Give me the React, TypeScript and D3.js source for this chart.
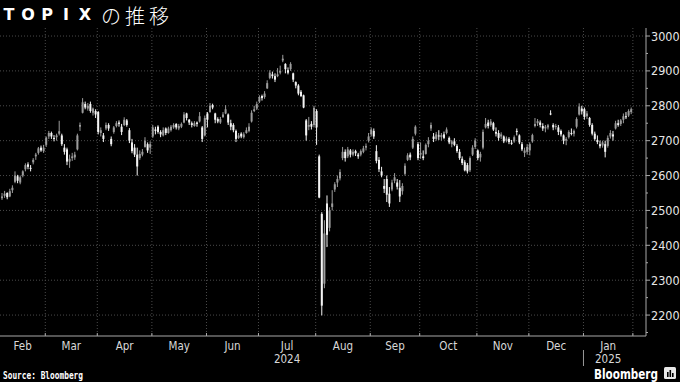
import React from "react";
import * as d3 from "d3";

// OHLC per trading day, [open, high, low, close], one array per month
const ohlcFeb = [
  [2535,2550,2530,2540],[2542,2556,2536,2548],[2550,2552,2532,2538],[2540,2562,2538,2555],[2558,2572,2550,2565],
  [2582,2612,2578,2600],[2598,2602,2578,2585],[2580,2600,2575,2595],[2600,2615,2595,2612],[2618,2635,2612,2630],
  [2632,2638,2618,2625],[2622,2630,2612,2620],[2638,2650,2632,2645],[2655,2665,2645,2660],[2665,2682,2660,2678],
  [2680,2686,2668,2672],[2670,2688,2665,2680],
];
const ohlcMar = [
  [2688,2712,2682,2709],[2712,2728,2705,2722],[2722,2726,2705,2712],[2708,2716,2698,2705],[2710,2720,2700,2715],
  [2720,2757,2715,2727],[2715,2720,2685,2690],[2680,2690,2660,2668],[2675,2680,2630,2640],[2640,2660,2622,2648],
  [2650,2665,2642,2655],[2652,2668,2645,2660],[2675,2720,2672,2715],[2740,2752,2728,2745],[2780,2822,2778,2810],
  [2805,2812,2790,2795],[2792,2808,2786,2800],[2805,2812,2780,2785],[2780,2795,2772,2792],[2785,2790,2765,2775],
];
const ohlcApr = [
  [2782,2785,2718,2725],[2722,2738,2712,2730],[2715,2722,2696,2705],[2735,2752,2730,2745],[2745,2750,2728,2735],
  [2705,2712,2684,2690],[2725,2742,2720,2738],[2742,2756,2738,2750],[2752,2758,2740,2748],[2740,2748,2716,2725],
  [2745,2767,2742,2760],[2758,2762,2740,2745],[2730,2736,2693,2700],[2695,2705,2664,2670],[2680,2690,2653,2660],
  [2660,2680,2600,2626],[2650,2672,2645,2662],[2660,2676,2655,2668],[2682,2710,2680,2700],[2690,2695,2665,2672],
  [2680,2698,2662,2690],
];
const ohlcMay = [
  [2712,2745,2708,2738],[2732,2740,2718,2728],[2740,2744,2720,2725],[2725,2730,2710,2718],[2715,2738,2712,2730],
  [2735,2738,2716,2722],[2722,2740,2720,2735],[2730,2745,2726,2740],[2738,2750,2734,2745],[2748,2750,2732,2738],
  [2735,2748,2730,2742],[2740,2752,2736,2748],[2752,2782,2750,2775],[2778,2780,2758,2765],[2760,2762,2745,2752],
  [2750,2755,2738,2745],[2742,2756,2740,2750],[2752,2755,2740,2748],[2755,2782,2752,2770],[2738,2742,2696,2705],
  [2715,2772,2712,2765],
];
const ohlcJun = [
  [2778,2782,2738,2760],[2782,2808,2780,2800],[2802,2806,2790,2795],[2778,2780,2750,2760],[2762,2767,2750,2755],
  [2752,2768,2748,2762],[2768,2782,2765,2775],[2778,2802,2776,2790],[2775,2778,2745,2752],[2750,2760,2730,2740],
  [2745,2750,2724,2730],[2728,2732,2696,2705],[2708,2722,2705,2715],[2720,2724,2707,2712],[2710,2724,2706,2718],
  [2722,2738,2720,2730],[2728,2750,2724,2740],[2755,2787,2752,2780],[2785,2800,2782,2790],[2792,2812,2788,2805],
];
const ohlcJul = [
  [2812,2830,2808,2825],[2828,2832,2815,2822],[2825,2842,2820,2835],[2850,2873,2848,2865],[2880,2902,2876,2895],
  [2890,2898,2878,2885],[2885,2893,2868,2875],[2885,2908,2882,2890],[2895,2915,2890,2900],[2930,2946,2925,2935],
  [2920,2922,2893,2905],[2902,2910,2890,2895],[2905,2925,2900,2920],[2893,2895,2868,2875],[2868,2870,2850,2858],
  [2858,2862,2830,2835],[2840,2845,2825,2828],[2830,2832,2793,2795],[2758,2762,2700,2715],[2740,2768,2730,2745],
  [2748,2756,2732,2740],[2745,2800,2738,2794],
];
const ohlcAug = [
  [2785,2790,2688,2738],[2655,2660,2535,2537],[2490,2495,2199,2227],[2290,2472,2277,2434],[2520,2543,2395,2430],
  [2450,2509,2440,2500],[2510,2558,2500,2520],[2560,2581,2553,2575],[2580,2600,2567,2590],[2592,2618,2586,2610],
  [2650,2682,2644,2668],[2668,2675,2640,2650],[2655,2682,2650,2675],[2672,2676,2652,2660],[2660,2675,2655,2668],
  [2670,2674,2656,2664],[2660,2665,2648,2655],[2660,2675,2655,2670],[2668,2685,2664,2678],[2680,2692,2672,2685],
  [2700,2722,2695,2712],
];
const ohlcSep = [
  [2718,2738,2712,2732],[2728,2735,2705,2712],[2670,2687,2635,2642],[2645,2653,2610,2618],[2612,2625,2595,2600],
  [2570,2590,2550,2562],[2590,2600,2524,2545],[2548,2567,2510,2520],[2560,2588,2555,2580],[2585,2607,2578,2595],
  [2580,2590,2560,2568],[2565,2587,2524,2540],[2555,2578,2545,2570],[2605,2635,2600,2628],[2645,2664,2642,2658],
  [2660,2666,2644,2652],[2680,2712,2676,2705],[2720,2744,2715,2740],[2690,2696,2644,2650],
];
const ohlcOct = [
  [2660,2695,2648,2665],[2655,2672,2644,2650],[2662,2692,2660,2688],[2690,2710,2681,2700],[2735,2752,2728,2745],
  [2712,2722,2696,2705],[2705,2725,2700,2718],[2715,2730,2702,2712],[2710,2722,2700,2716],[2718,2726,2704,2708],
  [2722,2738,2718,2732],[2708,2712,2690,2695],[2690,2702,2681,2698],[2698,2707,2684,2688],[2685,2690,2665,2670],
  [2668,2676,2645,2650],[2648,2655,2630,2636],[2638,2644,2612,2615],[2630,2636,2606,2612],[2615,2655,2610,2650],
  [2660,2687,2656,2680],[2682,2707,2676,2700],
];
const ohlcNov = [
  [2672,2675,2644,2650],[2652,2668,2640,2662],[2680,2732,2675,2725],[2738,2765,2735,2748],[2752,2760,2735,2742],
  [2745,2762,2740,2755],[2750,2754,2728,2732],[2725,2738,2712,2720],[2722,2730,2700,2708],[2712,2724,2705,2718],
  [2712,2715,2693,2698],[2700,2712,2695,2706],[2705,2710,2690,2696],[2694,2702,2688,2692],[2698,2715,2694,2710],
  [2728,2735,2715,2725],[2715,2718,2690,2695],[2690,2696,2670,2675],[2665,2680,2653,2672],[2668,2690,2660,2682],
];
const ohlcDec = [
  [2672,2695,2658,2690],[2698,2720,2694,2716],[2742,2765,2738,2748],[2750,2762,2742,2756],[2752,2758,2738,2745],
  [2742,2750,2728,2735],[2735,2745,2724,2740],[2738,2748,2732,2744],[2778,2787,2773,2775],[2745,2750,2730,2738],
  [2740,2748,2732,2742],[2738,2745,2716,2725],[2728,2732,2712,2718],[2715,2718,2690,2700],[2700,2710,2687,2705],
  [2710,2730,2706,2725],[2722,2735,2715,2720],[2720,2732,2712,2728],[2740,2767,2735,2762],[2775,2807,2772,2798],
  [2792,2800,2775,2784],
];
const ohlcJan = [
  [2790,2795,2760,2768],[2770,2785,2762,2778],[2765,2768,2740,2745],[2745,2750,2715,2720],[2720,2726,2700,2705],
  [2702,2715,2690,2696],[2690,2700,2678,2684],[2686,2700,2680,2695],[2690,2700,2652,2668],[2685,2715,2680,2708],
  [2712,2730,2706,2722],[2718,2728,2700,2712],[2735,2757,2732,2750],[2750,2760,2740,2745],[2748,2762,2742,2758],
  [2760,2778,2750,2770],[2770,2782,2762,2768],[2772,2790,2768,2785],[2782,2795,2776,2790],
];

const monthLabels = ["Feb","Mar","Apr","May","Jun","Jul","Aug","Sep","Oct","Nov","Dec","Jan"];
const monthData = [ohlcFeb, ohlcMar, ohlcApr, ohlcMay, ohlcJun, ohlcJul, ohlcAug, ohlcSep, ohlcOct, ohlcNov, ohlcDec, ohlcJan];
const yearLabels = [{ month: "Jul", text: "2024" }, { month: "Jan", text: "2025" }];
const yTicks = [2200, 2300, 2400, 2500, 2600, 2700, 2800, 2900, 3000];
const yMinorTicks = [2150, 2250, 2350, 2450, 2550, 2650, 2750, 2850, 2950];
const titleLatin = ["T", "O", "P", "I", "X"];
const titleJa = "の推移";

const W = 680, H = 382;
const AXIS_X = 646, PLOT_TOP = 28, AXIS_Y = 336;
const condensed = "'DejaVu Sans Condensed', 'Liberation Sans Narrow', 'DejaVu Sans', sans-serif";

export default function App() {
  const candles: { i: number; o: number; h: number; l: number; c: number }[] = [];
  const monthStarts: number[] = [];
  monthData.forEach((m) => {
    monthStarts.push(candles.length);
    m.forEach(([o, h, l, c]) => candles.push({ i: candles.length, o, h, l, c }));
  });
  const n = candles.length;

  const x = d3.scaleLinear().domain([-0.77, 247.7]).range([0, AXIS_X]);
  const y = d3.scaleLinear().domain([2140, 3023]).range([AXIS_Y, PLOT_TOP]);

  const boundaries = monthStarts.slice(1).concat([n]).map((s) => x(s - 0.35));
  const leftEdges = [0].concat(boundaries.slice(0, -1));
  const labelCenters = leftEdges.map((l, k) => (l + boundaries[k]) / 2);

  const bw = 2;
  const upColor = "#9c9c9c";
  const downColor = "#f4f4f4";
  const gridColor = "#4a4a4a";

  const latinX = d3.scaleLinear().domain([0, 4]).range([9, 85]);

  return (
    <svg width={W} height={H} style={{ position: "fixed", left: 0, top: 0, background: "#000" }}>
      <rect x={0} y={0} width={W} height={H} fill="#000" />
      {/* title */}
      <text y={20} fill="#fff" fontFamily="'DejaVu Sans', sans-serif" fontWeight="bold" fontSize={16} textAnchor="middle">
        {titleLatin.map((ch, k) => (
          <tspan key={k} x={latinX(k)}>{ch}</tspan>
        ))}
      </text>
      <text x={101} y={23.5} fill="#fff" fontFamily="'Noto Sans CJK JP', sans-serif" fontSize={20} letterSpacing={4} fontWeight={300}>
        {titleJa}
      </text>

      {/* grid */}
      {yTicks.map((t) => (
        <line key={"gy" + t} x1={0} x2={AXIS_X} y1={y(t)} y2={y(t)} stroke={gridColor} strokeWidth={1} strokeDasharray="1,2" />
      ))}
      {boundaries.map((bx, k) => (
        <line key={"gx" + k} x1={bx} x2={bx} y1={PLOT_TOP} y2={AXIS_Y} stroke={gridColor} strokeWidth={1} strokeDasharray="1,2" />
      ))}

      {/* candles */}
      {candles.map((d) => {
        const up = d.c >= d.o;
        const col = up ? upColor : downColor;
        const cx = x(d.i);
        const top = y(Math.max(d.o, d.c));
        const bot = y(Math.min(d.o, d.c));
        return (
          <g key={d.i}>
            <line x1={cx} x2={cx} y1={y(d.h)} y2={y(d.l)} stroke={col} strokeWidth={1} />
            <rect x={cx - bw / 2} y={top} width={bw} height={Math.max(1, bot - top)} fill={col} />
          </g>
        );
      })}

      {/* right axis */}
      <line x1={AXIS_X} x2={AXIS_X} y1={PLOT_TOP} y2={AXIS_Y} stroke="#a8a8a8" strokeWidth={1} />
      {yTicks.map((t) => (
        <g key={"yt" + t}>
          <line x1={AXIS_X} x2={AXIS_X + 4} y1={y(t)} y2={y(t)} stroke="#a8a8a8" />
          <text x={AXIS_X + 5} y={y(t)} dy="0.36em" fill="#e6e6e6" fontFamily={condensed} fontSize={12.5}>
            {t}
          </text>
        </g>
      ))}
      {yMinorTicks.map((t) => (
        <line key={"ym" + t} x1={AXIS_X} x2={AXIS_X + 2} y1={y(t)} y2={y(t)} stroke="#a8a8a8" />
      ))}

      {/* bottom axis */}
      <line x1={0} x2={AXIS_X} y1={AXIS_Y} y2={AXIS_Y} stroke="#a8a8a8" strokeWidth={1} />
      {boundaries.map((bx, k) => (
        <line key={"xt" + k} x1={bx} x2={bx} y1={AXIS_Y - 3} y2={AXIS_Y} stroke="#a8a8a8" />
      ))}
      {monthLabels.map((m, k) => (
        <text key={"ml" + k} x={labelCenters[k]} y={349.5} textAnchor="middle" fill="#d8d8d8" fontFamily={condensed} fontSize={11.5}>
          {m}
        </text>
      ))}
      {yearLabels.map((yl) => {
        const k = monthLabels.lastIndexOf(yl.month);
        return (
          <text key={yl.text} x={labelCenters[k]} y={363} textAnchor="middle" fill="#d8d8d8" fontFamily={condensed} fontSize={11.5}>
            {yl.text}
          </text>
        );
      })}
      <line x1={leftEdges[11]} x2={leftEdges[11]} y1={350} y2={366} stroke="#9a9a9a" strokeWidth={1} />

      {/* footer */}
      <text x={3} y={379} fill="#fff" fontFamily="'DejaVu Sans Mono', monospace" fontWeight="bold" fontSize={10.5} textLength={80} lengthAdjust="spacingAndGlyphs">
        Source: Bloomberg
      </text>
      <text x={594} y={379} fill="#fff" fontFamily="'DejaVu Sans', 'Liberation Sans', sans-serif" fontWeight="bold" fontSize={14} textLength={64} lengthAdjust="spacingAndGlyphs">
        Bloomberg
      </text>
      <g transform="translate(664,367)">
        <rect x={0} y={0} width={12} height={12} rx={1.5} fill="#e8e8e8" />
        <rect x={3} y={5} width={1.6} height={5} fill="#000" />
        <rect x={5.5} y={3} width={1.6} height={7} fill="#000" />
        <rect x={8} y={6} width={1.6} height={4} fill="#000" />
      </g>
    </svg>
  );
}
